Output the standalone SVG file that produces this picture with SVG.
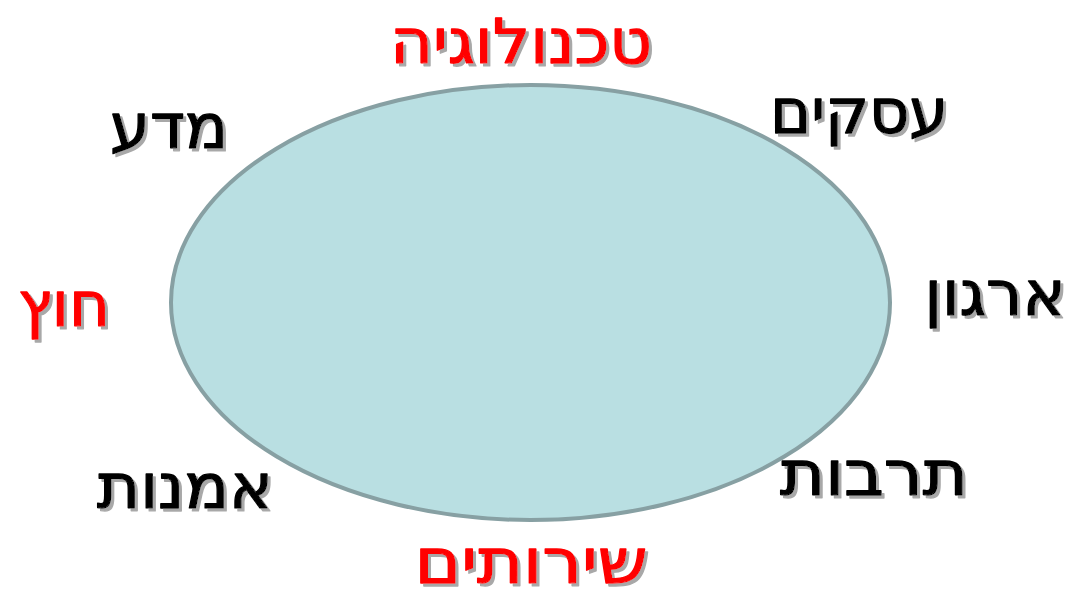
<svg xmlns="http://www.w3.org/2000/svg" width="1077" height="592" viewBox="0 0 1077 592">
<style>
.t{font-family:"DejaVu Sans",sans-serif;font-size:62px;text-anchor:middle;direction:rtl;filter:url(#shadow);stroke-width:1.3px;stroke-linejoin:round}
.r{fill:#ff0000;stroke:#ff0000}
.k{fill:#000000;stroke:#000000}
</style>
<defs>
<filter id="shadow" x="-10%" y="-20%" width="125%" height="150%">
<feGaussianBlur in="SourceAlpha" stdDeviation="0.7" result="b"/>
<feOffset in="b" dx="3" dy="3" result="o"/>
<feFlood flood-color="#a8a8a8"/>
<feComposite in2="o" operator="in" result="s"/>
<feMerge><feMergeNode in="s"/><feMergeNode in="SourceGraphic"/></feMerge>
</filter>
</defs>
<rect width="1077" height="592" fill="#ffffff"/>
<g id="ellipse">
<ellipse cx="530.5" cy="302.5" rx="359.5" ry="217.5" fill="#b9dfe2" stroke="#87a0a3" stroke-width="4"/>
</g>
<g id="tech">
<text class="t r" x="521" y="63" textLength="262" lengthAdjust="spacingAndGlyphs">טכנולוגיה</text>
</g>
<g id="science">
<text class="t k" x="169" y="148" textLength="118" lengthAdjust="spacingAndGlyphs">מדע</text>
</g>
<g id="business">
<text class="t k" x="859" y="133" textLength="178" lengthAdjust="spacingAndGlyphs">עסקים</text>
</g>
<g id="abroad">
<text class="t r" x="64" y="326" textLength="92" lengthAdjust="spacingAndGlyphs">חוץ</text>
</g>
<g id="organization">
<text class="t k" x="995" y="315" textLength="141" lengthAdjust="spacingAndGlyphs">ארגון</text>
</g>
<g id="culture">
<text class="t k" x="874" y="495" textLength="188" lengthAdjust="spacingAndGlyphs">תרבות</text>
</g>
<g id="art">
<text class="t k" x="185" y="508" textLength="176" lengthAdjust="spacingAndGlyphs">אמנות</text>
</g>
<g id="services">
<text class="t r" x="531" y="583" textLength="233" lengthAdjust="spacingAndGlyphs">שירותים</text>
</g>
</svg>
